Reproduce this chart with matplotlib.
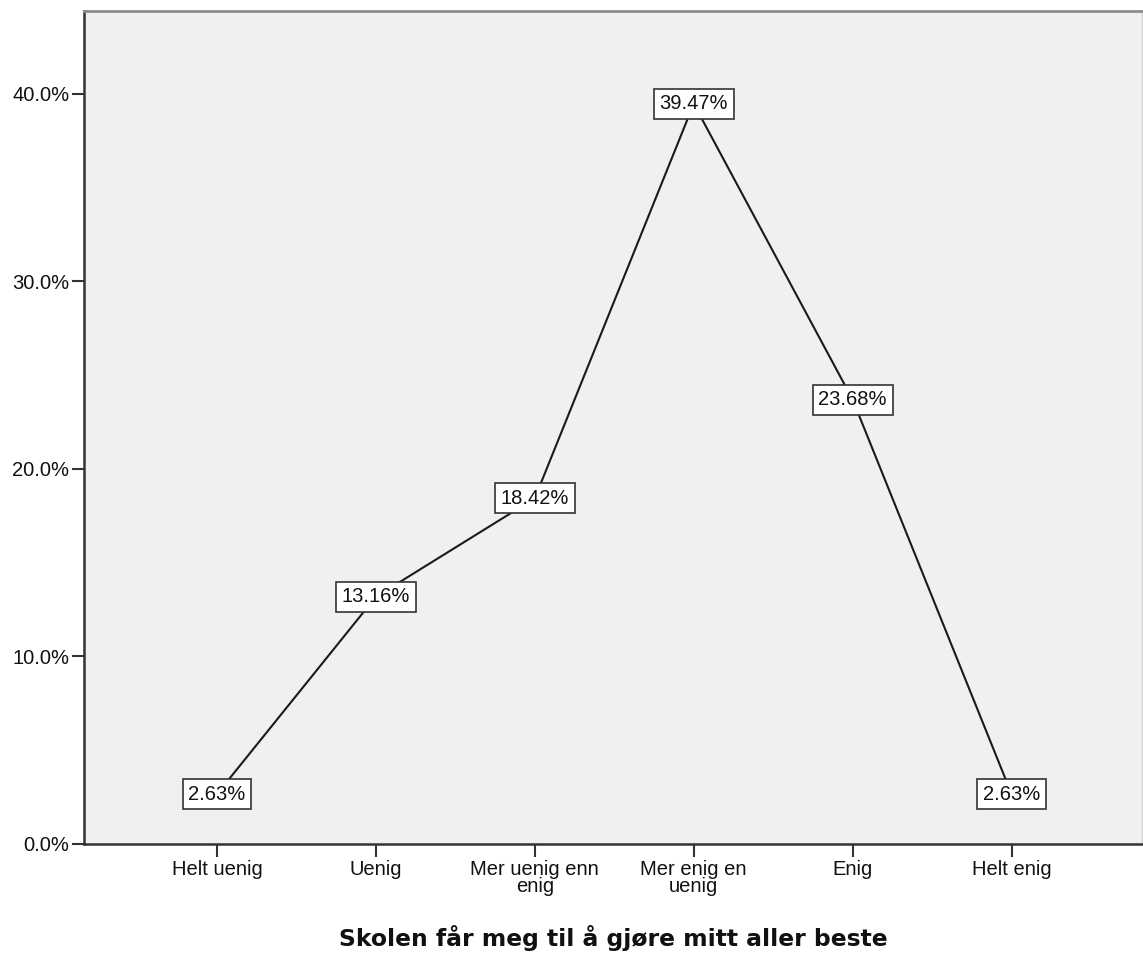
import matplotlib
matplotlib.use("Agg")
import matplotlib.pyplot as plt
from matplotlib.ticker import FuncFormatter

categories = ["Helt uenig", "Uenig", "Mer uenig enn\nenig", "Mer enig en\nuenig", "Enig", "Helt enig"]
percent = [2.63, 13.16, 18.42, 39.47, 23.68, 2.63]
y_ticks = [0, 10, 20, 30, 40]
xlabel = "Skolen får meg til å gjøre mitt aller beste"

plt.rcParams["font.family"] = ["Liberation Sans", "DejaVu Sans"]

W, H = 1143, 958
fig = plt.figure(figsize=(W / 100, H / 100), dpi=100)
ax = fig.add_axes([84 / W, (H - 843.5) / H, (1142 - 84) / W, (843.5 - 11) / H])
ax.set_facecolor("#f0f0f0")

x = list(range(len(categories)))
ax.plot(x, percent, color="#1a1a1a", lw=1.5, zorder=2)
for xi, v in zip(x, percent):
    ax.text(xi, v, f"{v:.2f}%", ha="center", va="center", fontsize=14.5, color="#111111",
            zorder=3,
            bbox=dict(boxstyle="square,pad=0.28", fc="white", ec="#333333", lw=1.2))

ax.set_xlim(-0.836, 5.82)
ax.set_ylim(0, 44.42)
ax.set_xticks(x)
ax.set_xticklabels(categories, fontsize=14.5, linespacing=0.85, color="#111111")
ax.set_yticks(y_ticks)
ax.yaxis.set_major_formatter(FuncFormatter(lambda v, _: f"{v:.1f}%"))
ax.tick_params(axis="y", labelsize=14.5, length=9, width=1.5, pad=1.5, colors="#333333",
               labelcolor="#111111")
ax.tick_params(axis="x", length=9, width=1.5, pad=3, colors="#333333", labelcolor="#111111")

for side in ("left", "bottom"):
    ax.spines[side].set_color("#333333")
    ax.spines[side].set_linewidth(1.8)
ax.spines["top"].set_color("#8c8c8c")
ax.spines["top"].set_linewidth(2.0)
ax.spines["right"].set_color("#d0d0d0")
ax.spines["right"].set_linewidth(1.0)

fig.text(613 / W, (H - 946) / H, xlabel, ha="center", va="baseline", fontsize=16.9,
         fontweight="bold", family="DejaVu Sans", color="#111111")

fig.savefig("out.png", dpi=100)
